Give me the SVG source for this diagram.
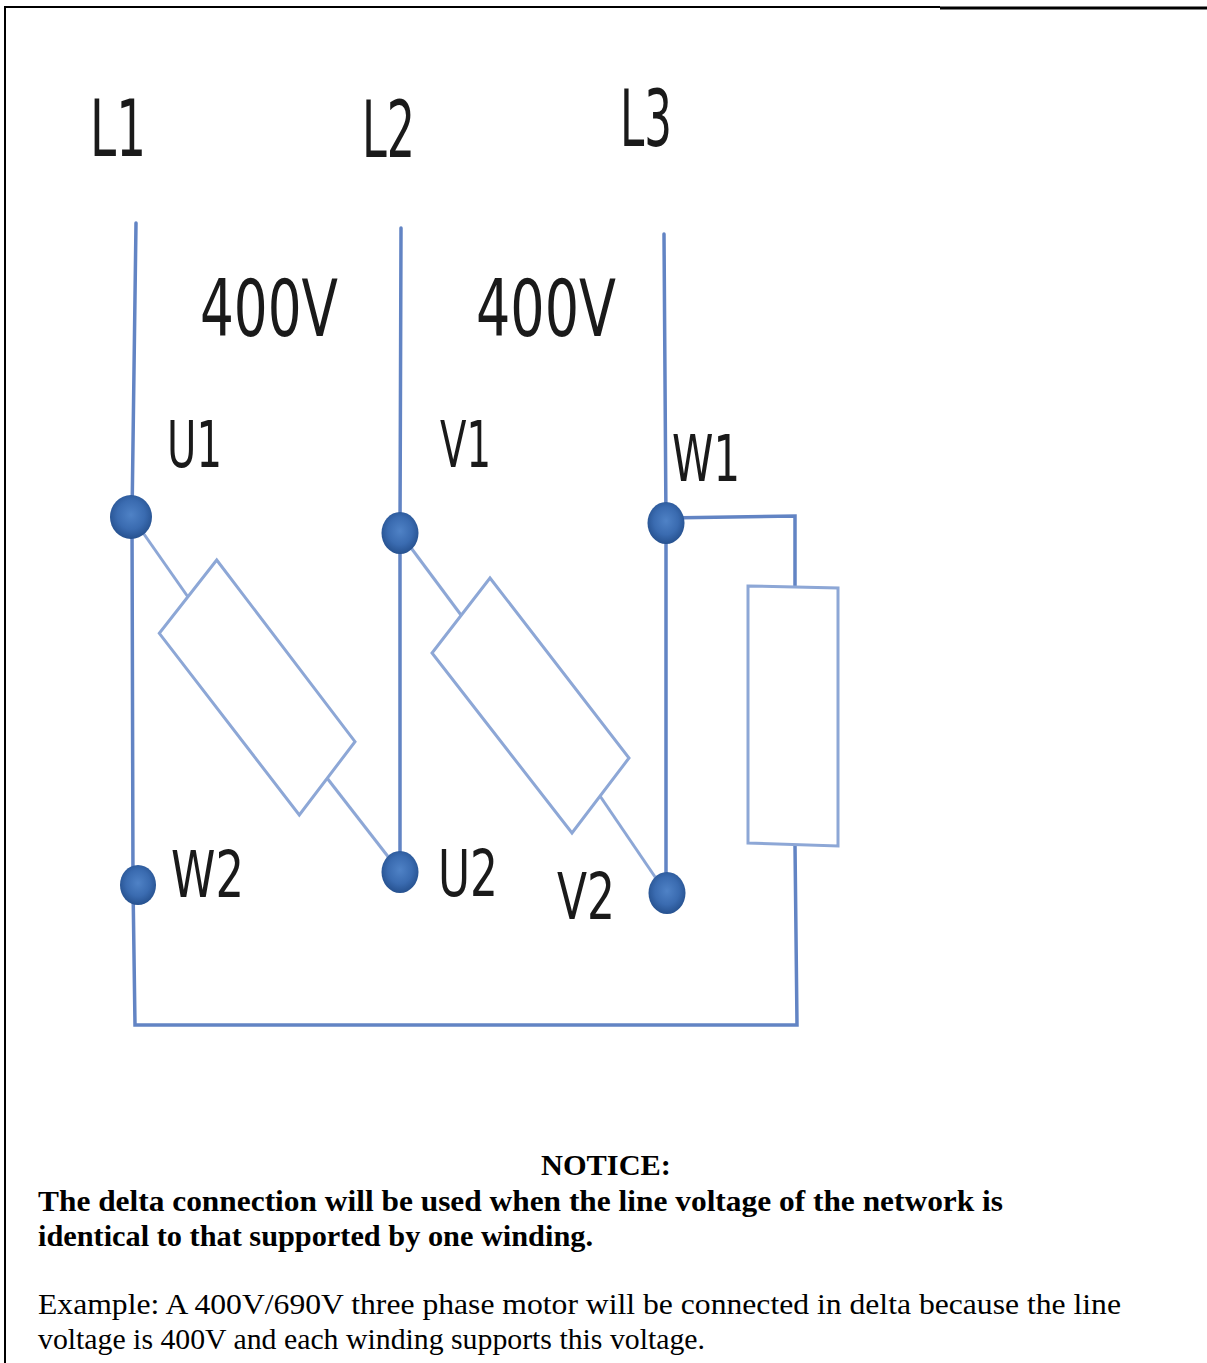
<svg xmlns="http://www.w3.org/2000/svg" width="1207" height="1363" viewBox="0 0 1207 1363">
<style>
.wire{stroke:#6284c4;stroke-width:3.5;fill:none;stroke-linecap:round}
.res{stroke:#8da7d6;stroke-width:3;fill:#ffffff}
.lead{stroke:#8da7d6;stroke-width:3;fill:none}
.lbl{font-family:"DejaVu Sans",sans-serif;fill:#1a1a1a}
.big{font-size:78px}
.mid{font-size:64px}
.note{font-family:"Liberation Serif","Times New Roman",serif;font-size:30px;fill:#000}
.b{font-weight:bold}
.frame{stroke:#000;fill:none}
</style>
<defs>
<radialGradient id="dotg" cx="50%" cy="45%" r="55%">
<stop offset="0" stop-color="#4f82c6"/>
<stop offset="0.6" stop-color="#3a6bb0"/>
<stop offset="1" stop-color="#26518f"/>
</radialGradient>
</defs>
<rect width="1207" height="1363" fill="#ffffff"/>
<g id="frame">
<line class="frame" x1="5" y1="7" x2="5" y2="1363" stroke-width="2"/>
<line class="frame" x1="4" y1="7" x2="940" y2="7" stroke-width="2"/>
<line class="frame" x1="940" y1="8" x2="1207" y2="8" stroke-width="3"/>
</g>
<g id="connectors">
<polyline class="wire" points="136,223 132,517 133,885 135,1025 797,1025 795,845"/>
<polyline class="wire" points="401,228 400,533 400,872"/>
<polyline class="wire" points="664,234 666,523 666,893"/>
<polyline class="wire" points="666,518 795,516 795,587"/>
<line class="lead" x1="132" y1="517" x2="188" y2="597"/>
<line class="lead" x1="327" y1="778" x2="400" y2="872"/>
<line class="lead" x1="400" y1="533" x2="461" y2="615"/>
<line class="lead" x1="600" y1="796" x2="666" y2="893"/>
</g>
<g id="winding-U">
<polygon class="res" points="216.7,560 355,741.7 299.3,815 159.3,633.3"/>
</g>
<g id="winding-V">
<polygon class="res" points="490,578 629,758 572,833 432,653"/>
</g>
<g id="winding-W">
<polygon class="res" points="748,586 838,588 838,846 748,843"/>
</g>
<g id="node-U1"><ellipse cx="131" cy="517" rx="21" ry="22" fill="url(#dotg)"/></g>
<g id="node-V1"><ellipse cx="400" cy="533" rx="18.5" ry="21" fill="url(#dotg)"/></g>
<g id="node-W1"><ellipse cx="666" cy="523" rx="18.5" ry="21" fill="url(#dotg)"/></g>
<g id="node-W2"><ellipse cx="138" cy="885" rx="18" ry="20" fill="url(#dotg)"/></g>
<g id="node-U2"><ellipse cx="400" cy="872" rx="18.5" ry="21" fill="url(#dotg)"/></g>
<g id="node-V2"><ellipse cx="667" cy="893" rx="18.5" ry="21" fill="url(#dotg)"/></g>
<g id="labels">
<text class="lbl big" x="90" y="156" textLength="56" lengthAdjust="spacingAndGlyphs">L1</text>
<text class="lbl big" x="362" y="157" textLength="53" lengthAdjust="spacingAndGlyphs">L2</text>
<text class="lbl big" x="620" y="146" textLength="52" lengthAdjust="spacingAndGlyphs">L3</text>
<text class="lbl big" x="200" y="336" textLength="138" lengthAdjust="spacingAndGlyphs">400V</text>
<text class="lbl big" x="476" y="336" textLength="140" lengthAdjust="spacingAndGlyphs">400V</text>
<text class="lbl mid" x="167" y="467" textLength="55" lengthAdjust="spacingAndGlyphs">U1</text>
<text class="lbl mid" x="440" y="467" textLength="51" lengthAdjust="spacingAndGlyphs">V1</text>
<text class="lbl mid" x="672" y="481" textLength="68" lengthAdjust="spacingAndGlyphs">W1</text>
<text class="lbl mid" x="171" y="897" textLength="73" lengthAdjust="spacingAndGlyphs">W2</text>
<text class="lbl mid" x="438" y="896" textLength="60" lengthAdjust="spacingAndGlyphs">U2</text>
<text class="lbl mid" x="557" y="919" textLength="58" lengthAdjust="spacingAndGlyphs">V2</text>
</g>
<g id="notice">
<text class="note b" x="541" y="1175" textLength="130" lengthAdjust="spacingAndGlyphs">NOTICE:</text>
<text class="note b" x="38" y="1211" textLength="965" lengthAdjust="spacingAndGlyphs">The delta connection will be used when the line voltage of the network is</text>
<text class="note b" x="38" y="1246" textLength="555" lengthAdjust="spacingAndGlyphs">identical to that supported by one winding.</text>
<text class="note" x="38" y="1314" textLength="1083" lengthAdjust="spacingAndGlyphs">Example: A 400V/690V three phase motor will be connected in delta because the line</text>
<text class="note" x="38" y="1349" textLength="667" lengthAdjust="spacingAndGlyphs">voltage is 400V and each winding supports this voltage.</text>
</g>
</svg>
